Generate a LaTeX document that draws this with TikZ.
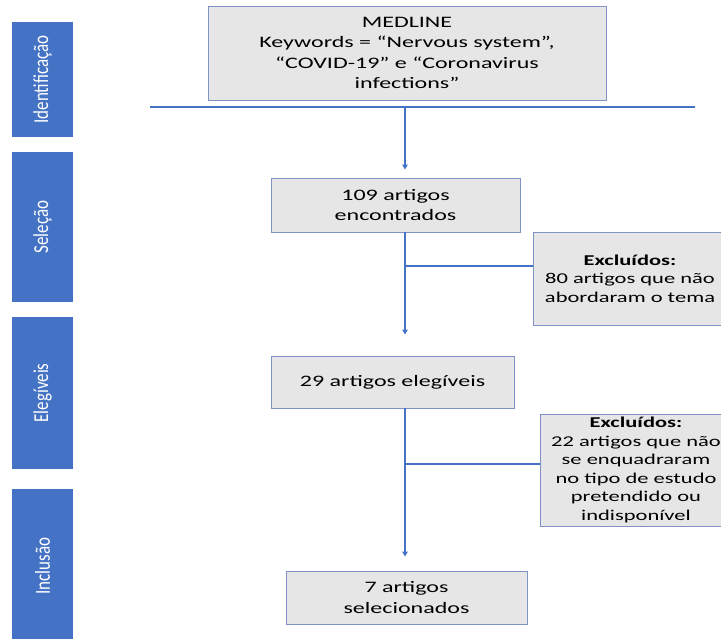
\documentclass[tikz,border=0pt]{standalone}
\usepackage{fontspec}
\setmainfont[FakeStretch=1.5]{Carlito}
\newfontfamily\barfont{Carlito}
\usepackage{graphicx}
\usepackage{xcolor}
\usetikzlibrary{arrows.meta}
\definecolor{barblue}{HTML}{4472C4}
\definecolor{boxgray}{HTML}{E6E6E6}
\definecolor{boxedge}{HTML}{7F93C6}
\newcommand{\phaselabel}[1]{\scalebox{1}[1.25]{#1}}
\tikzset{
  phase/.style={fill=barblue, rotate=90, minimum height=61pt, inner sep=0pt,
    text=white, font=\barfont\fontsize{17}{20}\selectfont},
  stagebox/.style={draw=boxedge, fill=boxgray, line width=0.9pt, inner sep=0pt,
    align=center, font=\fontsize{16}{20.5}\selectfont},
  exclbox/.style={stagebox, font=\fontsize{15}{18.6}\selectfont},
  flow/.style={draw=barblue, line width=1.5pt},
  flowarrow/.style={flow, -{Triangle[length=5pt,width=5.5pt]}}
}

\begin{document}
\begin{tikzpicture}[x=1pt, y=-1pt]
\useasboundingbox (0,0) rectangle (721,639);
\node [phase, minimum width=115pt] (identificacao) at (42.5,79.5) {\phaselabel{Identificação}};
\node [phase, minimum width=150pt] (selecao) at (42.5,227) {\phaselabel{Seleção}};
\node [phase, minimum width=152pt] (elegiveis) at (42.5,393) {\phaselabel{Elegíveis}};
\node [phase, minimum width=154pt] (inclusao) at (42.5,566) {\phaselabel{Inclusão}};

\node [stagebox, minimum width=398pt, minimum height=94pt] (medline) at (407,53)
{MEDLINE\\Keywords = “Nervous system”,\\“COVID-19” e “Coronavirus\\infections”};
\node [stagebox, minimum width=249pt, minimum height=54pt] (found) at (395.5,205)
{109 artigos\\encontrados};
\node [stagebox, minimum width=243pt, minimum height=52pt] (eligible) at (392.5,382)
{29 artigos elegíveis};
\node [stagebox, minimum width=241pt, minimum height=53pt] (selected) at (406.5,597.5)
{7 artigos\\selecionados};
\node [exclbox, minimum width=194pt, minimum height=93pt] (excla) at (630,278.5)
{\textbf{Excluídos:}\\80 artigos que não\\abordaram o tema};
\node [exclbox, minimum width=192pt, minimum height=112pt] (exclb) at (636,470)
{\textbf{Excluídos:}\\22 artigos que não\\se enquadraram\\no tipo de estudo\\pretendido ou\\indisponível};

\coordinate (hl) at (150,107);
\coordinate (hr) at (695,107);
\coordinate (split) at (405,107);
\coordinate (branchA) at (405,266);
\coordinate (branchB) at (405,464);
\draw [flow] (hl) -- (hr);
\draw [flowarrow, shorten >=8pt] (split) -- (split |- found.north);
\draw [flowarrow, shorten >=21pt] (split |- found.south) -- (split |- eligible.north);
\draw [flowarrow, shorten >=14pt] (split |- eligible.south) -- (split |- selected.north);
\draw [flow] (branchA) -- (branchA -| excla.west);
\draw [flow] (branchB) -- (branchB -| exclb.west);
\end{tikzpicture}
\end{document}
